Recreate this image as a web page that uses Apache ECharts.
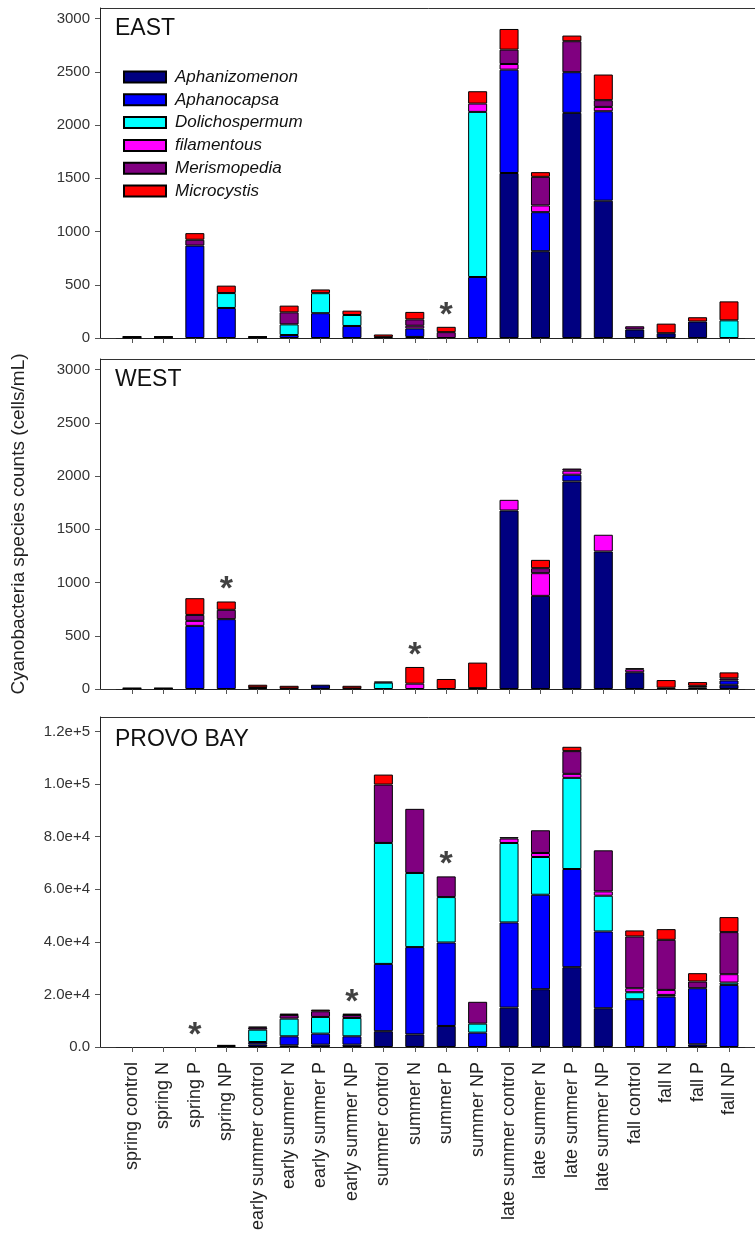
<!DOCTYPE html>
<html><head><meta charset="utf-8">
<script src="https://cdn.jsdelivr.net/npm/echarts@6/dist/echarts.min.js"></script>
<style>html,body{margin:0;padding:0;background:#fff}#c{width:755px;height:1234px}</style>
</head><body><div id="c"></div>
<script>
// ---------------- data ----------------
const categories = ['spring control','spring N','spring P','spring NP','early summer control','early summer N','early summer P','early summer NP','summer control','summer N','summer P','summer NP','late summer control','late summer N','late summer P','late summer NP','fall control','fall N','fall P','fall NP'];
const species = ['Aphanizomenon','Aphanocapsa','Dolichospermum','filamentous','Merismopedia','Microcystis'];

// EAST (cells/mL)
const eastAphanizomenon  = [5,5,0,0,5,0,0,0,0,10,0,0,1550,815,2115,1290,80,45,155,0];
const eastAphanocapsa    = [0,0,868,282,0,28,233,113,0,80,0,573,971,367,382,840,0,0,0,0];
const eastDolichospermum = [0,0,0,140,0,100,188,103,0,0,0,1551,0,0,0,0,0,0,0,166];
const eastFilamentous    = [0,0,0,0,0,0,0,0,0,25,0,78,53,63,0,41,0,0,0,0];
const eastMerismopedia   = [5,5,55,0,5,113,0,0,8,60,55,0,135,269,291,63,30,0,0,0];
const eastMicrocystis    = [5,5,62,70,5,63,35,41,25,70,50,116,194,44,53,241,0,90,40,178];

// WEST (cells/mL)
const westAphanizomenon  = [5,5,0,0,10,0,40,0,0,0,0,8,1677,875,1950,1292,157,12,15,40];
const westAphanocapsa    = [0,0,593,656,0,0,0,0,0,0,0,0,0,0,63,0,0,0,0,40];
const westDolichospermum = [0,0,0,0,0,0,0,0,60,0,0,0,0,0,0,0,0,0,0,0];
const westFilamentous    = [0,0,47,0,0,0,0,0,0,50,0,0,100,213,38,157,28,0,0,0];
const westMerismopedia   = [5,5,56,88,5,5,0,5,10,0,0,0,0,47,20,0,10,0,15,20];
const westMicrocystis    = [0,0,157,78,25,25,0,25,0,157,94,240,0,78,0,0,0,72,35,56];

// PROVO BAY (cells/mL)
const provoAphanizomenon  = [0,0,0,400,1000,635,890,890,6000,4800,8000,0,14980,21970,30350,14730,0,0,1020,0];
const provoAphanocapsa    = [0,0,0,0,900,3430,4190,3175,25600,33200,31740,5460,32390,35940,37340,29210,18160,19180,21340,23620];
const provoDolichospermum = [0,0,0,0,4700,6730,6350,6985,46000,28190,17270,3430,30220,14350,34670,13590,2670,635,0,890];
const provoFilamentous    = [0,0,0,0,0,0,0,0,0,0,0,0,1700,1520,1520,1650,1520,1900,0,3175];
const provoMerismopedia   = [0,0,0,400,800,1400,2160,1140,22200,24380,7870,8300,500,8640,8640,15620,19690,19050,2540,16000];
const provoMicrocystis    = [0,0,0,0,300,500,635,500,3800,0,0,0,0,0,1650,0,2290,4060,3175,5715];

// significance markers (category indices)
const eastStars  = [10];
const westStars  = [3, 9];
const provoStars = [2, 7, 10];

// tick values / labels
const countTicks       = [0,500,1000,1500,2000,2500,3000];
const countTickLabels  = ['0','500','1000','1500','2000','2500','3000'];
const provoTicks       = [0,20000,40000,60000,80000,100000,120000];
const provoTickLabels  = ['0.0','2.0e+4','4.0e+4','6.0e+4','8.0e+4','1.0e+5','1.2e+5'];

// ---------------- styling / layout ----------------
const colors = ['#000080','#0000ff','#00ffff','#ff00ff','#800080','#ff0000'];
const FONT = 'Liberation Sans';
const FRAME_LEFT = 100, BAND = 31.42, N = categories.length;
const GRID_LEFT = 116.3, H = 330;
const TOPS = [8, 359, 717];

const panels = [
  {title:'EAST', data:[eastAphanizomenon,eastAphanocapsa,eastDolichospermum,eastFilamentous,eastMerismopedia,eastMicrocystis], ticks:countTicks, labels:countTickLabels, max:3100, stars:eastStars},
  {title:'WEST', data:[westAphanizomenon,westAphanocapsa,westDolichospermum,westFilamentous,westMerismopedia,westMicrocystis], ticks:countTicks, labels:countTickLabels, max:3100, stars:westStars},
  {title:'PROVO BAY', data:[provoAphanizomenon,provoAphanocapsa,provoDolichospermum,provoFilamentous,provoMerismopedia,provoMicrocystis], ticks:provoTicks, labels:provoTickLabels, max:125500, stars:provoStars}
];

const grid = [], xAxis = [], yAxis = [], series = [], graphic = [], title = [];
panels.forEach((p, i) => {
  grid.push({left:GRID_LEFT, top:TOPS[i], width:BAND*N, height:H});
  xAxis.push({
    type:'category', gridIndex:i, data:categories, boundaryGap:true,
    axisLine:{show:true, lineStyle:{color:'#222', width:1}},
    axisTick:{show:true, alignWithLabel:true, length:5, lineStyle:{color:'#555'}},
    axisLabel:{show:i===2, rotate:90, fontSize:18, margin:15, color:'#222', fontFamily:FONT, interval:0}
  });
  yAxis.push({
    type:'value', gridIndex:i, min:0, max:p.max, offset:GRID_LEFT-FRAME_LEFT,
    axisLine:{show:true, lineStyle:{color:'#222', width:1}},
    axisTick:{show:true, length:5, customValues:p.ticks, lineStyle:{color:'#555'}},
    axisLabel:{customValues:p.ticks, fontSize:15, margin:10, color:'#333', fontFamily:FONT,
      formatter:(v)=>{const k=p.ticks.indexOf(v); return k>=0?p.labels[k]:'';}},
    splitLine:{show:false},
    name: i===1 ? 'Cyanobacteria species counts (cells/mL)' : '',
    nameLocation:'middle', nameRotate:90, nameGap:72,
    nameTextStyle:{fontSize:19, color:'#222', fontFamily:FONT}
  });
  p.data.forEach((arr, s) => {
    series.push({
      type:'bar', name:species[s], xAxisIndex:i, yAxisIndex:i, stack:'panel'+i,
      barWidth:19, data:arr.map(v => v === 0 ? '-' : v),
      itemStyle:{color:colors[s], borderColor:'#000', borderWidth:1},
      emphasis:{disabled:true}
    });
  });
  const totals = categories.map((c, k) => p.data.reduce((a, arr) => a + arr[k], 0));
  series.push({
    type:'scatter', xAxisIndex:i, yAxisIndex:i, symbolSize:1, silent:true,
    itemStyle:{color:'rgba(0,0,0,0)'},
    data:p.stars.map(k => [k, totals[k]]),
    label:{show:true, formatter:'*', position:'top', distance:-6, fontSize:34, fontWeight:'bold', color:'#111', fontFamily:FONT},
    z:10
  });
  graphic.push({type:'rect', silent:true, z:-1,
    shape:{x:FRAME_LEFT+0.5, y:TOPS[i]+0.5, width:700, height:H},
    style:{fill:'none', stroke:'#333', lineWidth:1}});
  title.push({text:p.title, left:110, top:TOPS[i]+([4,4,6][i]),
    textStyle:{fontSize:23, fontWeight:'normal', color:'#111', fontFamily:FONT}});
});

const chart = echarts.init(document.getElementById('c'), null, {renderer:'canvas'});
chart.setOption({
  animation:false,
  backgroundColor:'#fff',
  title, grid, xAxis, yAxis, series, graphic,
  legend:{
    data:species, orient:'vertical', left:118, top:62,
    itemWidth:42, itemHeight:11, itemGap:2.8, icon:'rect',
    textStyle:{fontStyle:'italic', fontSize:17, lineHeight:20, color:'#111', fontFamily:FONT, padding:[0,0,0,4]}
  }
});
</script>
</body></html>
